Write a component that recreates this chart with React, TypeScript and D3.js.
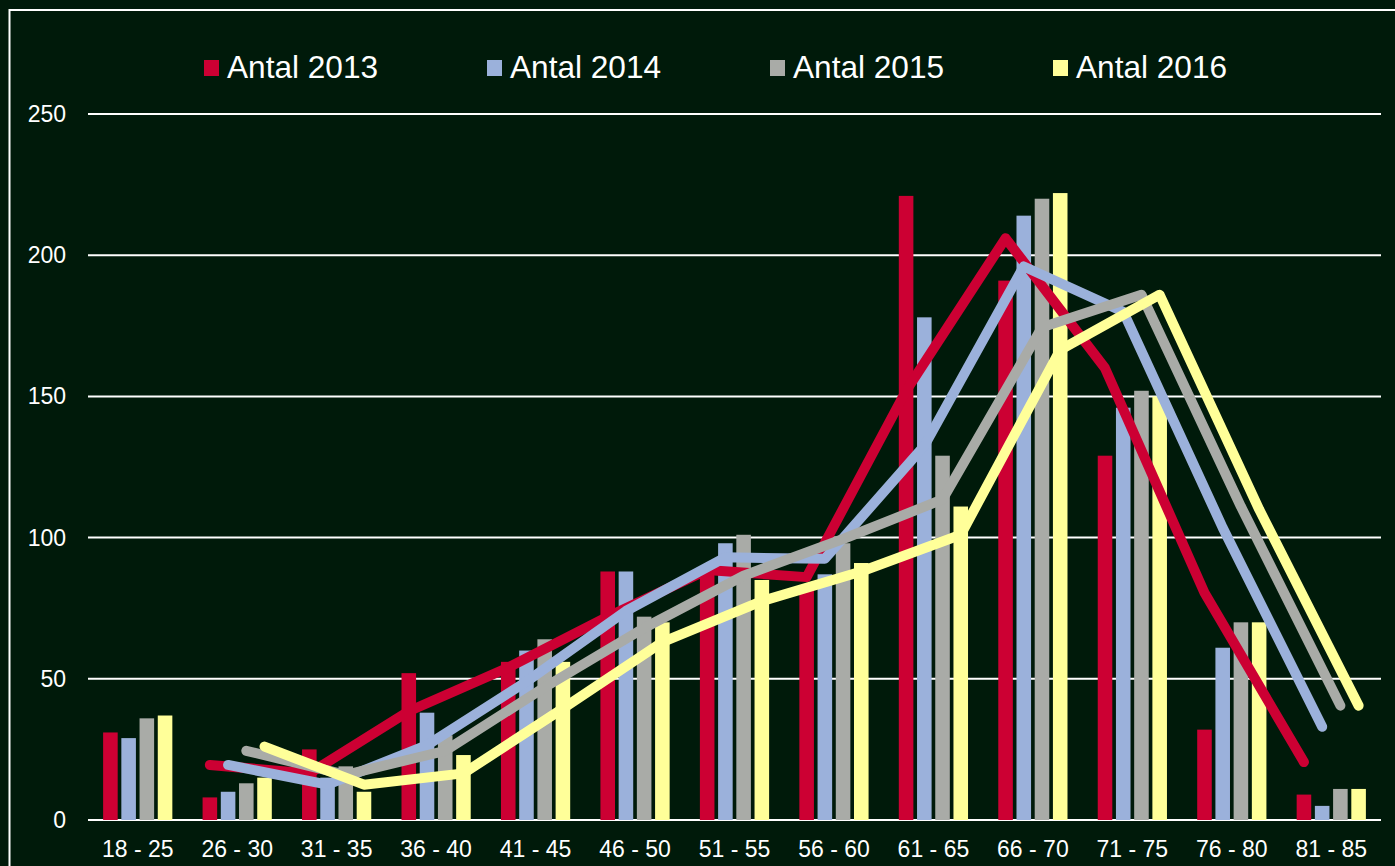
import React, { useRef, useEffect } from 'react';
import * as d3 from 'd3';

const categories = ['18 - 25', '26 - 30', '31 - 35', '36 - 40', '41 - 45', '46 - 50', '51 - 55', '56 - 60', '61 - 65', '66 - 70', '71 - 75', '76 - 80', '81 - 85'];
const seriesNames = ['Antal 2013', 'Antal 2014', 'Antal 2015', 'Antal 2016'];
const antal2013 = [31, 8, 25, 52, 56, 88, 89, 83, 221, 191, 129, 32, 9];
const antal2014 = [29, 10, 15, 38, 60, 88, 98, 87, 178, 214, 146, 61, 5];
const antal2015 = [36, 13, 19, 30, 64, 72, 101, 98, 129, 220, 152, 70, 11];
const antal2016 = [37, 15, 10, 23, 56, 70, 85, 91, 111, 222, 150, 70, 11];
const yTicks = [0, 50, 100, 150, 200, 250];
const colors = ['#CC0033', '#9BB1DB', '#A9ABA7', '#FFFF99'];

const W = 1395;
const H = 866;
const BG = '#001A0A';
const FONT = '"Liberation Sans", Arial, sans-serif';

const App: React.FC = () => {
  const svgRef = useRef<SVGSVGElement>(null);

  useEffect(() => {
    if (!svgRef.current) return;
    const svg = d3.select(svgRef.current);
    svg.selectAll('*').remove();

    const series = [antal2013, antal2014, antal2015, antal2016];
    const left = 88, right = 1381, top = 114, bottom = 820;

    const x = d3.scaleBand<string>()
      .domain(categories)
      .range([left, right])
      .paddingInner(0.304)
      .paddingOuter(0.152);

    const xInner = d3.scaleBand<string>()
      .domain(seriesNames)
      .range([0, x.bandwidth()])
      .paddingInner(0.2)
      .paddingOuter(0);

    const y = d3.scaleLinear().domain([0, 250]).range([bottom, top]);

    svg.append('rect')
      .attr('width', W)
      .attr('height', H)
      .attr('fill', BG);

    // frame
    svg.append('rect')
      .attr('x', 9.5)
      .attr('y', 10)
      .attr('width', W + 20)
      .attr('height', H + 20)
      .attr('fill', 'none')
      .attr('stroke', '#ffffff')
      .attr('stroke-width', 2);

    // grid
    svg.append('g')
      .selectAll('line')
      .data(yTicks)
      .join('line')
      .attr('x1', left)
      .attr('x2', right)
      .attr('y1', d => y(d))
      .attr('y2', d => y(d))
      .attr('stroke', '#ffffff')
      .attr('stroke-width', 2);

    // y labels
    svg.append('g')
      .selectAll('text')
      .data(yTicks)
      .join('text')
      .attr('x', 66)
      .attr('y', d => y(d) + 8)
      .attr('text-anchor', 'end')
      .attr('fill', '#ffffff')
      .style('font-family', FONT)
      .style('font-size', '23px')
      .text(d => d);

    // x labels
    svg.append('g')
      .selectAll('text')
      .data(categories)
      .join('text')
      .attr('x', d => x(d)! + x.bandwidth() / 2)
      .attr('y', 857)
      .attr('text-anchor', 'middle')
      .attr('fill', '#ffffff')
      .style('font-family', FONT)
      .style('font-size', '23px')
      .text(d => d);

    // bars
    series.forEach((vals, si) => {
      svg.append('g')
        .selectAll('rect')
        .data(vals)
        .join('rect')
        .attr('x', (_, i) => x(categories[i])! + xInner(seriesNames[si])!)
        .attr('y', d => y(d))
        .attr('width', xInner.bandwidth())
        .attr('height', d => bottom - y(d))
        .attr('fill', colors[si]);
    });

    // 2-period moving average trendlines
    series.forEach((vals, si) => {
      const avg = d3.pairs(vals, (a, b) => (a + b) / 2);
      const line = d3.line<number>()
        .x((_, i) => x(categories[i + 1])! + xInner(seriesNames[si])! + xInner.bandwidth() / 2)
        .y(d => y(d));
      svg.append('path')
        .attr('d', line(avg))
        .attr('fill', 'none')
        .attr('stroke', colors[si])
        .attr('stroke-width', 10)
        .attr('stroke-linecap', 'round')
        .attr('stroke-linejoin', 'round');
    });

    // legend
    const legend = svg.append('g');
    seriesNames.forEach((name, i) => {
      const lx = 204 + i * 283;
      legend.append('rect')
        .attr('x', lx)
        .attr('y', 60)
        .attr('width', 15)
        .attr('height', 16)
        .attr('fill', colors[i]);
      legend.append('text')
        .attr('x', lx + 23)
        .attr('y', 78)
        .attr('fill', '#ffffff')
        .style('font-family', FONT)
        .style('font-size', '31.6px')
        .text(name);
    });
  }, []);

  return (
    <svg
      ref={svgRef}
      width={W}
      height={H}
      style={{ position: 'absolute', left: 0, top: 0, display: 'block' }}
    />
  );
};

export default App;
